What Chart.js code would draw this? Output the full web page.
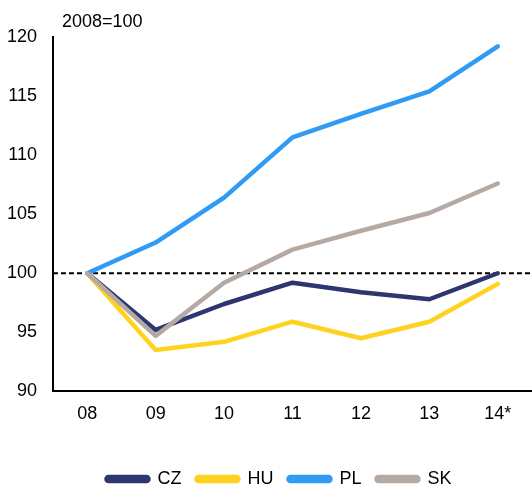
<!DOCTYPE html>
<html lang="en">
<head>
  <meta charset="UTF-8">
  <title>2008=100</title>
  <script src="https://cdn.jsdelivr.net/npm/chart.js"></script>
  <style>
    html, body {
      margin: 0;
      padding: 0;
      background: #fff;
    }
    .chart-container {
      width: 532px;
      height: 487px;
    }
  </style>
</head>
<body>

  <div class="chart-container">
    <canvas id="indexChart"></canvas>
  </div>

  <script>
    // Data (2008 = 100)
    const years = ['08', '09', '10', '11', '12', '13', '14*'];
    const cz = [100, 95.2, 97.4, 99.2, 98.4, 97.8, 100];
    const hu = [100, 93.5, 94.2, 95.9, 94.5, 95.9, 99.1];
    const pl = [100, 102.6, 106.4, 111.5, 113.5, 115.4, 119.2];
    const sk = [100, 94.7, 99.2, 102.0, 103.6, 105.1, 107.6];
    const yTicks = [90, 95, 100, 105, 110, 115, 120];
    const baseLine = 100;

    const fontFamily = "'Liberation Sans', Arial, sans-serif";
    const fontSize = 18;

    // Dashed base line, "2008=100" note, small legend shift
    const extras = {
      id: 'extras',
      afterLayout(chart) {
        chart.legend.left += 13;
        chart.legend.right += 13;
      },
      beforeDatasetsDraw(chart) {
        const { ctx, chartArea, scales } = chart;
        const y = scales.y.getPixelForValue(baseLine);
        ctx.save();
        ctx.strokeStyle = '#000';
        ctx.lineWidth = 2;
        ctx.setLineDash([5, 3]);
        ctx.beginPath();
        ctx.moveTo(chartArea.left, y);
        ctx.lineTo(chartArea.right, y);
        ctx.stroke();
        ctx.restore();
      },
      afterDraw(chart) {
        const { ctx, chartArea } = chart;
        ctx.save();
        ctx.fillStyle = '#000';
        ctx.font = fontSize + 'px ' + fontFamily;
        ctx.textBaseline = 'middle';
        ctx.fillText('2008=100', chartArea.left + 9, 22);
        ctx.restore();
      }
    };

    const line = (label, data, color, order) => ({
      label: label,
      data: data,
      borderColor: color,
      backgroundColor: color,
      borderWidth: 4.5,
      pointRadius: 0,
      tension: 0,
      borderCapStyle: 'round',
      borderJoinStyle: 'round',
      order: order
    });

    const ctx = document.getElementById('indexChart').getContext('2d');
    const indexChart = new Chart(ctx, {
      type: 'line',
      data: {
        labels: years,
        datasets: [
          line('CZ', cz, '#2d3671', 4),
          line('HU', hu, '#ffd21f', 3),
          line('PL', pl, '#2f9bf5', 2),
          line('SK', sk, '#b5aaa3', 1)
        ]
      },
      options: {
        responsive: true,
        maintainAspectRatio: false,
        animation: false,
        layout: {
          padding: { top: 37, right: 0, bottom: -11, left: 0 }
        },
        plugins: {
          legend: {
            position: 'bottom',
            labels: {
              color: '#000',
              font: { family: fontFamily, size: fontSize },
              boxWidth: 42,
              boxHeight: 4,
              padding: 15,
              useBorderRadius: true,
              borderRadius: 2,
              sort: (a, b) => a.datasetIndex - b.datasetIndex
            }
          },
          tooltip: { enabled: false }
        },
        scales: {
          x: {
            offset: true,
            afterFit: (axis) => { axis.height += 18; },
            grid: { display: false, drawTicks: false },
            border: { display: true, color: '#000', width: 2 },
            ticks: {
              color: '#000',
              font: { family: fontFamily, size: fontSize },
              padding: 12,
              maxRotation: 0
            }
          },
          y: {
            min: 90,
            max: 120,
            afterBuildTicks: (axis) => {
              axis.ticks = yTicks.map(v => ({ value: v }));
            },
            afterFit: (axis) => { axis.width = 53; },
            grid: { display: false, drawTicks: false },
            border: { display: true, color: '#000', width: 2 },
            ticks: {
              color: '#000',
              font: { family: fontFamily, size: fontSize },
              padding: 16
            }
          }
        }
      },
      plugins: [extras]
    });
  </script>

</body>
</html>
